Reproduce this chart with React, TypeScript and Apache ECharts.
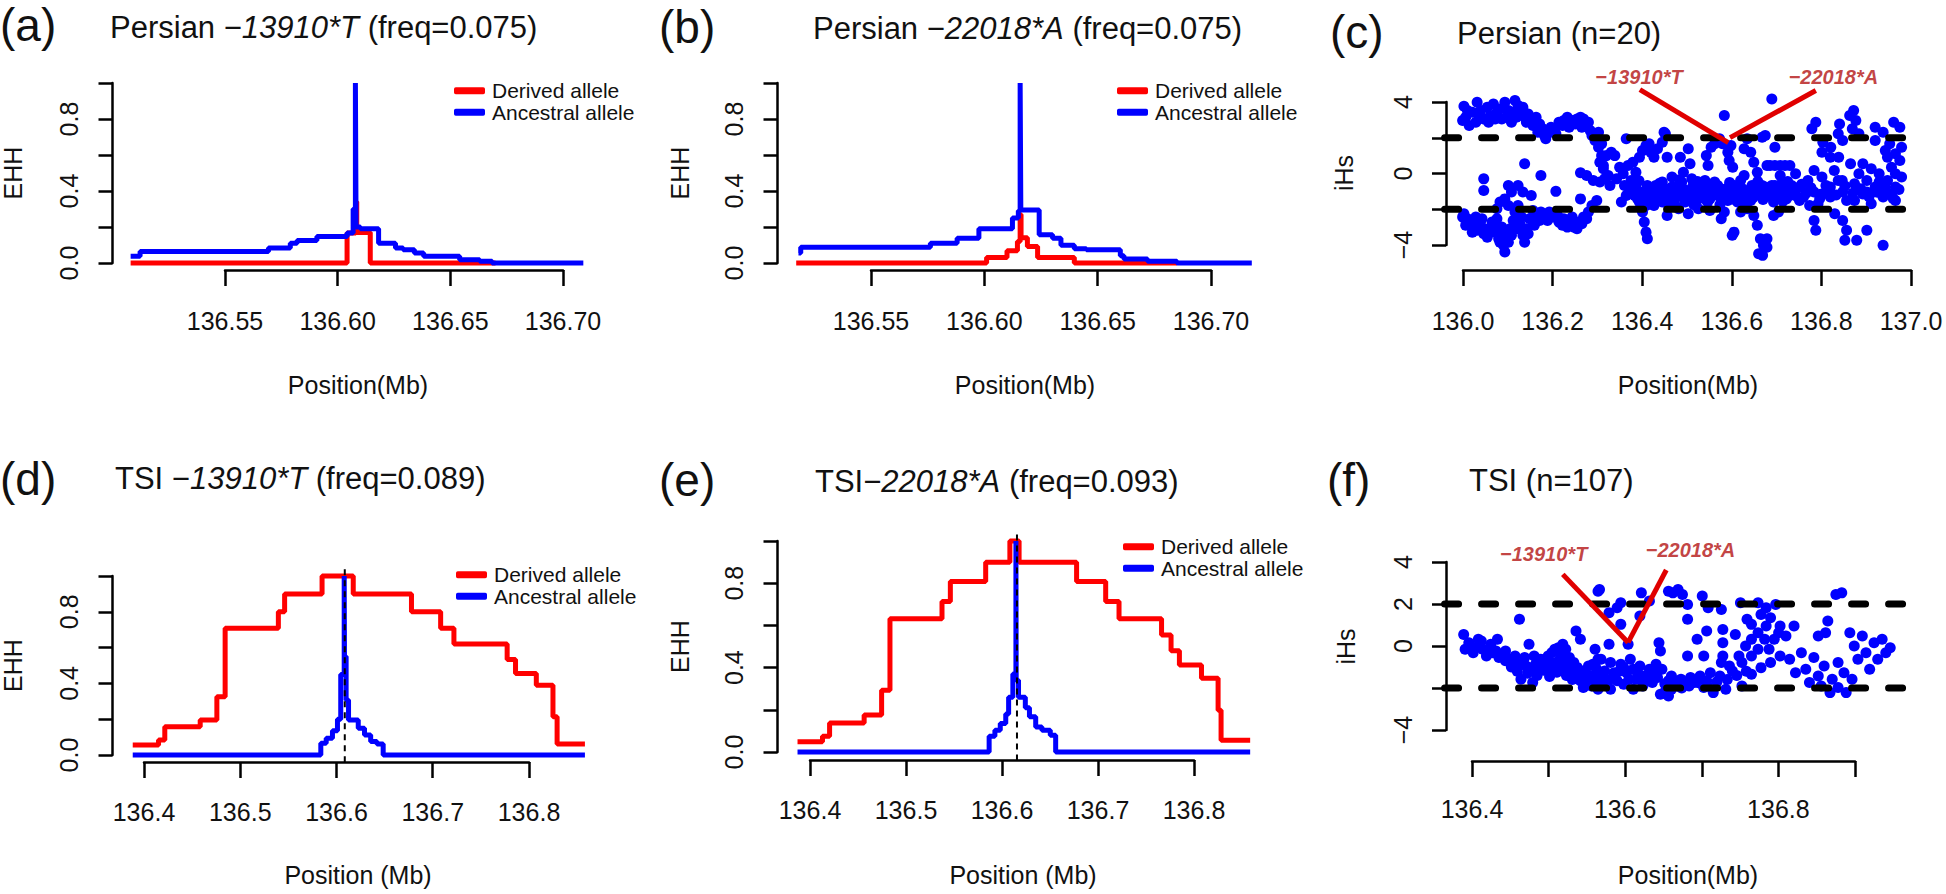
import React, { useEffect, useRef } from "react";
import * as echarts from "echarts";

const FONT = "'Liberation Sans', Arial, Helvetica, sans-serif";
const RED = "#FF0000";
const BLUE = "#0000FF";
const ANNOT_RED = "#E00000";
const ANNOT_TEXT = "#B31212";
const INK = "#111111";

// ---------------- EHH data (position Mb, EHH) ; step starts ----------------
const aDerived: number[][] = [
  [136.508, 0], [136.6041, 0.166], [136.6080, 0.34], [136.6084, 0.17], [136.6144, 0], [136.670, 0],
];
const aAncestral: number[][] = [
  [136.508, 0.037], [136.5122, 0.064], [136.5692, 0.083], [136.5789, 0.11], [136.5819, 0.125],
  [136.5907, 0.147], [136.6041, 0.166], [136.6068, 0.3], [136.6078, 1.0], [136.6081, 0.2],
  [136.6100, 0.19], [136.6181, 0.11], [136.6256, 0.083], [136.629, 0.074], [136.634, 0.055],
  [136.6381, 0.037], [136.6541, 0.018], [136.663, 0.01], [136.6685, 0.0], [136.709, 0.0],
];
const bDerived: number[][] = [
  [136.517, 0], [136.601, 0.031], [136.610, 0.068], [136.6146, 0.12], [136.6158, 0.27],
  [136.6162, 0.14], [136.619, 0.092], [136.6235, 0.031], [136.6397, 0], [136.685, 0],
];
const bAncestral: number[][] = [
  [136.518, 0.055], [136.519, 0.087], [136.5762, 0.11], [136.588, 0.138], [136.5976, 0.19],
  [136.6124, 0.25], [136.615, 0.29], [136.6158, 1.0], [136.6161, 0.295], [136.6242, 0.157],
  [136.6301, 0.138], [136.6338, 0.098], [136.6397, 0.079], [136.645, 0.074], [136.66, 0.04],
  [136.6616, 0.022], [136.672, 0.01], [136.685, 0], [136.718, 0],
];
const dDerived: number[][] = [
  [136.3883, 0.056], [136.4151, 0.084], [136.4216, 0.158], [136.4584, 0.196], [136.4757, 0.326],
  [136.4843, 0.708], [136.5396, 0.8], [136.5461, 0.9], [136.585, 1.0], [136.6174, 0.9],
  [136.6779, 0.8], [136.7082, 0.708], [136.722, 0.62], [136.7773, 0.534], [136.786, 0.456],
  [136.8076, 0.39], [136.8249, 0.214], [136.8292, 0.061], [136.8581, 0.061],
];
const dAncestral: number[][] = [
  [136.3883, 0], [136.5837, 0.065], [136.5893, 0.093], [136.5958, 0.136], [136.601, 0.2],
  [136.6044, 0.45], [136.608, 1.0], [136.6083, 0.55], [136.6100, 0.307], [136.6125, 0.196],
  [136.6226, 0.149], [136.6291, 0.112], [136.6355, 0.075], [136.642, 0.061], [136.6485, 0],
  [136.8581, 0],
];
const eDerived: number[][] = [
  [136.387, 0.048], [136.413, 0.075], [136.4204, 0.138], [136.4564, 0.175], [136.4746, 0.293],
  [136.4833, 0.631], [136.5375, 0.713], [136.5462, 0.808], [136.583, 0.899], [136.6082, 1.0],
  [136.6178, 0.899], [136.6777, 0.808], [136.708, 0.713], [136.7219, 0.631], [136.7662, 0.555],
  [136.7761, 0.48], [136.7848, 0.412], [136.8078, 0.349], [136.8251, 0.198], [136.8282, 0.056],
  [136.8585, 0.056],
];
const eAncestral: number[][] = [
  [136.387, 0], [136.5866, 0.075], [136.5926, 0.103], [136.5982, 0.135], [136.6039, 0.18],
  [136.6069, 0.26], [136.6113, 0.37], [136.6145, 1.0], [136.6148, 0.34], [136.6172, 0.26],
  [136.6243, 0.21], [136.6286, 0.167], [136.6351, 0.119], [136.6416, 0.103], [136.6503, 0.079],
  [136.6559, 0], [136.8585, 0],
];
const coreD = 136.6086;
const coreE = 136.6156;
const ehhSpan = [-0.04, 1.04];

// ---------------- iHS data (position Mb, iHS) ----------------
const ihsPersian: number[][] = [
  [136.004,3.76],[136.001,2.96],[136.008,3.15],[136.012,3.52],[136.016,2.68],[136.023,3.43],[136.031,2.87],[136.034,3.99],[136.038,3.24],[136.042,3.52],[136.049,3.05],[136.057,3.71],[136.06,2.87],[136.064,3.24],[136.071,3.89],[136.075,3.05],[136.079,3.43],[136.086,3.61],[136.09,3.05],[136.097,3.99],[136.101,3.15],[136.105,3.52],[136.112,2.87],[136.116,3.43],[136.12,4.08],[136.123,3.15],[136.127,3.8],[136.135,3.43],[136.138,3.71],[136.142,3.15],[136.146,2.87],[136.15,3.33],[136.157,3.05],[136.161,2.68],[136.168,3.15],[136.172,2.31],[136.176,2.77],[136.183,2.5],[136.187,2.12],[136.19,1.94],[136.194,2.22],[136.202,2.59],[136.209,2.5],[136.213,2.22],[136.22,2.87],[136.228,2.68],[136.231,2.96],[136.239,3.15],[136.243,2.59],[136.25,2.96],[136.257,2.77],[136.261,3.05],[136.269,3.15],[136.272,2.59],[136.276,3.05],[136.283,2.68],[136.287,2.87],[136.291,2.4],[136.295,2.12],[136.302,1.84],[136.31,1.47],[136.317,1.0],[136.313,0.63],[136.321,0.26],[136.324,-0.3],
  [136.004,-2.25],[136.001,-2.44],[136.008,-2.9],[136.012,-2.53],[136.019,-2.9],[136.023,-3.28],[136.027,-2.63],[136.031,-2.44],[136.034,-3.18],[136.042,-2.9],[136.045,-2.53],[136.049,-3.37],[136.057,-3.56],[136.06,-3.09],[136.064,-3.28],[136.068,-2.72],[136.071,-3.0],[136.075,-3.28],[136.079,-2.53],[136.083,-3.65],[136.086,-3.84],[136.09,-3.0],[136.094,-4.02],[136.097,-4.39],[136.097,-3.28],[136.101,-3.56],[136.105,-3.84],[136.109,-3.09],[136.112,-3.46],[136.116,-2.63],[136.12,-2.16],[136.124,-3.09],[136.127,-1.79],[136.131,-2.81],[136.135,-2.44],[136.138,-3.46],[136.142,-3.84],[136.146,-3.09],[136.15,-3.37],[136.153,-2.53],[136.161,-2.07],[136.164,-2.9],[136.168,-2.35],[136.176,-2.63],[136.179,-2.16],[136.187,-2.35],[136.194,-2.63],[136.198,-2.16],[136.205,-2.25],[136.209,-2.44],[136.217,-2.35],[136.22,-2.72],[136.228,-2.9],[136.231,-2.53],[136.239,-3.0],[136.243,-2.81],[136.25,-2.44],[136.254,-3.0],[136.261,-3.09],[136.265,-2.72],[136.272,-2.81],[136.276,-2.44],[136.283,-2.53],[136.287,-2.16],[136.295,-1.79],[136.269,-1.42],[136.306,-1.51],
  [136.049,-0.3],[136.049,-0.95],[136.105,-0.67],[136.112,-1.04],[136.127,-0.67],[136.142,0.54],[136.138,-1.04],[136.157,-1.23],[136.179,-0.11],[136.213,-1.0],[136.269,0.04],[136.283,-0.11],[136.298,-0.39],[136.086,-1.6],[136.097,-1.42],[136.079,-1.97],[136.105,-1.79],
  [136.31,2.31],[136.317,1.66],[136.328,1.0],[136.339,1.19],[136.347,1.0],[136.321,0.45],[136.332,-0.11],[136.313,-0.48],[136.336,-0.67],[136.351,-0.3],[136.358,0.35],[136.366,-0.02],[136.369,-0.67],[136.373,-1.23],[136.362,-1.6],[136.373,1.94],[136.377,0.45],[136.388,0.63],[136.395,0.07],[136.403,0.91],[136.41,1.28],[136.418,1.56],[136.425,1.66],[136.429,1.19],[136.436,0.91],[136.444,1.38],[136.455,1.75],[136.459,2.31],[136.462,2.22],[136.466,0.91],
  [136.38,-0.86],[136.392,-1.23],[136.403,-1.6],[136.41,-2.16],[136.414,-2.72],[136.418,-3.28],[136.421,-3.65],[136.429,-1.04],[136.44,-0.67],[136.451,-1.23],[136.462,-0.86],[136.473,-1.42],[136.485,-1.04],[136.492,-0.67],[136.496,0.91],[136.503,0.07],[136.514,1.38],[136.518,0.54],[136.522,-1.42],[136.529,-0.86],[136.537,-1.14],[136.544,-0.58],[136.555,1.0],[136.559,0.45],[136.566,1.47],[136.574,1.66],[136.581,-1.23],[136.585,1.94],[136.592,1.66],[136.596,3.24],[136.604,1.19],[136.607,0.73],[136.611,1.56],[136.615,0.35],[136.618,-0.67],[136.622,-1.04],[136.626,-1.6],[136.633,-0.39],[136.641,1.38],[136.648,1.94],[136.656,1.19],[136.663,0.63],[136.671,0.07],[136.678,-0.67],[136.682,2.03],[136.689,2.12],[136.693,0.45],[136.704,4.17],[136.711,1.47],[136.7,0.45],[136.711,0.45],[136.723,0.45],[136.734,0.45],[136.745,0.45],
  [136.671,-2.9],[136.678,-3.65],[136.685,-4.02],[136.693,-3.65],[136.663,-2.35],[136.618,-3.28],[136.589,-2.53],[136.596,-2.16],[136.633,-2.16],[136.648,-1.97],[136.708,-2.35],[136.719,-2.16],[136.614,-3.46],[136.674,-4.49],[136.683,-4.58],[136.693,-4.12],
  [136.395,-0.67],[136.41,-1.04],[136.425,-1.42],[136.436,-1.79],[136.447,-1.51],[136.459,-1.23],[136.47,-1.79],[136.481,-1.51],[136.496,-1.23],[136.507,-1.6],[136.518,-1.04],[136.533,-1.51],[136.544,-1.23],[136.555,-0.86],[136.563,-1.42],[136.574,-1.04],[136.589,-1.42],[136.6,-0.86],[136.611,-1.23],[136.626,-1.04],[136.637,-0.86],[136.648,-1.23],[136.659,-0.67],[136.671,-1.04],[136.682,-0.67],[136.693,-1.04],[136.704,-0.67],[136.715,-0.86],[136.726,-0.58],[136.737,-0.86],[136.749,-0.67],
  [136.455,-0.48],[136.477,-0.2],[136.499,-0.48],[136.522,-0.3],[136.552,-0.39],[136.574,-0.48],[136.641,-0.11],[136.723,-0.11],[136.737,-1.42],[136.492,-1.97],[136.514,-2.25],[136.537,-1.97],[136.563,-2.07],[136.466,-2.35],[136.708,-1.6],
  [136.384,-0.39],[136.399,-1.42],[136.418,-1.79],[136.421,-0.67],[136.432,-1.23],[136.444,-0.95],[136.455,-1.6],[136.466,-1.14],[136.477,-0.76],[136.488,-1.32],[136.499,-0.95],[136.51,-1.23],[136.525,-0.67],[136.54,-0.86],[136.552,-1.42],[136.57,-0.76],[136.581,-0.67],[136.592,-1.14],[136.604,-1.51],[136.615,-1.04],[136.63,-1.32],[136.645,-1.04],[136.656,-1.51],[136.667,-0.76],[136.678,-1.23],[136.689,-0.76],[136.7,-1.14],[136.711,-0.67],[136.723,-1.14],[136.734,-0.76],[136.745,-1.23],
  [136.39,-1.0],[136.402,-0.4],[136.413,-1.3],[136.427,-0.85],[136.438,-1.25],[136.449,-0.55],[136.46,-1.45],[136.471,-0.95],[136.483,-1.7],[136.494,-0.35],[136.505,-0.9],[136.516,-1.35],[136.527,-1.75],[136.535,-0.45],[136.547,-0.95],[136.558,-1.6],[136.567,-1.2],[136.578,-0.9],[136.586,-1.75],[136.597,-1.3],[136.608,-0.5],[136.619,-1.45],[136.629,-0.7],[136.64,-1.6],[136.651,-0.95],[136.661,-1.35],[136.672,-0.45],[136.684,-1.45],[136.696,-0.85],[136.706,-1.35],[136.717,-1.0],[136.729,-1.55],[136.74,-0.45],[136.752,-1.0],[136.762,-1.3],[136.772,-0.6],[136.782,-1.1],[136.793,-0.8],[136.813,-1.4],[136.832,-1.0],[136.85,-1.2],[136.87,-0.7],[136.888,-1.1],[136.906,-0.85],[136.925,-1.3],[136.944,-1.05],[136.962,-0.8],[136.98,-1.4],[136.993,-0.9],
  [136.795,2.5],[136.804,2.87],[136.858,2.77],[136.881,3.24],[136.89,3.52],[136.895,2.96],[136.981,2.87],[136.995,2.59],[136.82,1.75],[136.838,1.47],[136.865,1.84],[136.939,1.84],[136.972,1.66],[136.985,1.1],[136.865,-2.63],[136.874,-3.18],[136.87,-3.74],[136.897,-3.74],[136.92,-3.18],[136.957,-4.02],[136.8,-2.63],[136.804,-3.18],[136.985,-1.51],[136.847,-2.25],
  [136.758,-0.02],[136.767,-0.76],[136.776,-1.32],[136.786,-0.39],[136.8,-1.04],[136.809,-1.69],[136.818,-0.2],[136.827,-0.67],[136.837,-1.32],[136.846,0.17],[136.855,-0.39],[136.865,-1.04],[136.874,-1.51],[136.883,0.54],[136.892,-0.58],[136.902,-0.02],[136.911,-1.14],[136.92,-0.39],[136.93,-1.69],[136.939,-0.76],[136.948,-0.02],[136.957,-1.32],[136.967,-0.39],[136.976,0.35],[136.985,-0.76],[136.995,0.73],[136.999,-0.2],
  [136.767,-1.51],[136.79,-1.79],[136.818,-1.14],[136.837,-0.76],[136.864,-0.39],[136.892,-1.51],[136.92,-1.04],[136.948,-0.48],[136.976,-1.14],[136.985,-0.02],[136.999,1.47],[136.967,0.91],[136.93,0.26],[136.911,0.54],[136.902,2.22],[136.887,2.5],[136.855,2.22],[136.837,0.91],[136.8,0.17],[136.939,2.59],[136.957,2.31],[136.856,0.91],[136.818,1.19],[136.962,1.28],
];

const ihsTSI: number[][] = [
  [136.393,0.55],[136.395,-0.16],[136.402,0.0],[136.406,-0.32],[136.413,0.32],[136.417,0.24],[136.419,-0.16],[136.424,-0.48],[136.43,0.08],[136.432,-0.32],[136.439,0.32],[136.441,-0.55],[136.447,-0.48],[136.454,-0.63],[136.461,-0.71],[136.469,1.27],[136.467,-0.87],[136.474,-0.79],[136.471,-1.58],[136.478,-0.95],[136.482,0.08],[136.485,-1.03],[136.487,-1.74],[136.491,-0.87],[136.495,-1.03],[136.5,-0.79],[136.504,-0.63],[136.508,-0.48],[136.513,-0.32],[136.517,-0.16],[136.522,-0.08],[136.526,-0.4],[136.53,-0.63],[136.535,-0.95],[136.539,-1.19],[136.546,0.71],[136.552,0.32],[136.543,-0.79],[136.548,-1.03],[136.556,-1.19],[136.556,-1.98],[136.561,-1.74],[136.565,-1.43],[136.569,-0.87],[136.576,2.61],[136.574,-1.11],[136.511,-0.79],[136.515,-1.03],[136.519,-0.79],[136.526,-1.11],[136.532,-0.16],[136.537,-0.55],[136.572,-0.16],[136.576,-0.63],
  [136.546,-1.43],[136.552,-1.66],[136.563,-0.95],[136.567,-1.9],[136.576,-1.74],[136.58,-1.27],[136.528,0.08],[136.524,-0.63],[136.506,-0.87],[136.498,-0.63],[136.489,-0.48],[136.476,-0.55],[136.463,-0.48],[136.45,-0.24],[136.437,-0.24],[136.428,-0.16],[136.41,-0.08],[136.4,0.16],
  [136.578,2.69],[136.591,1.58],[136.602,1.82],[136.607,1.03],[136.617,0.08],[136.591,0.08],[136.633,1.43],[136.635,2.53],[136.646,2.14],[136.659,0.16],[136.661,-0.24],[136.672,2.61],[136.678,2.53],[136.685,2.69],[136.691,2.45],[136.698,1.98],[136.698,1.27],[136.711,0.32],[136.718,2.38],[136.724,0.71],[136.72,-0.48],[136.726,1.82],[136.744,1.74],[136.746,0.16],[136.746,-0.48],[136.744,-0.79],[136.77,2.06],[136.785,1.03],[136.794,2.06],[136.798,1.5],[136.805,1.82],[136.811,1.35],[136.818,1.98],[136.824,0.95],[136.794,0.63],[136.803,0.32],[136.809,-0.16],[136.785,-0.48],[136.772,-0.79],[136.759,-1.19],[136.742,-1.43],[136.724,-1.66],[136.707,-1.74],[136.694,-1.82],[136.685,-1.9],[136.676,-2.06],[136.668,-2.14],[136.733,-2.22],[136.72,-1.98],[136.75,-2.06],[136.772,-1.9],[136.785,-1.35],[136.798,-1.03],[136.811,-0.79],[136.824,-0.48],
  [136.58,-0.63],[136.593,-0.79],[136.607,-0.87],[136.62,-0.63],[136.633,-0.95],[136.646,-1.11],[136.655,-0.87],[136.657,-1.5],[136.663,-1.11],[136.672,-1.66],[136.576,-1.43],[136.589,-1.74],[136.602,-1.66],[136.615,-1.27],[136.628,-1.58],[136.641,-1.43],[136.576,-2.06],[136.593,-2.06],[136.611,-1.82],[136.624,-2.06],[136.637,-1.9],[136.65,-1.74],[136.661,-2.3],[136.672,-2.38],
  [136.572,-0.95],[136.585,-1.19],[136.598,-1.27],[136.611,-1.03],[136.624,-1.11],[136.637,-1.43],[136.65,-1.27],[136.676,-1.43],[136.689,-1.58],[136.702,-1.5],[136.715,-1.43],[136.729,-1.27],[136.755,-0.95],[136.768,-0.48],[136.777,0.0],[136.785,0.32],[136.794,-0.16],[136.816,0.32],[136.822,0.63],[136.805,0.95],[136.779,1.27],[136.763,0.55],[136.607,2.06],[136.698,-0.48],[136.746,0.79],
  [136.45,-0.7],[136.458,-1.0],[136.466,-1.2],[136.48,-1.3],[136.493,-1.4],[136.502,-1.15],[136.51,-1.45],[136.52,-1.25],[136.533,-1.4],[136.541,-1.6],[136.55,-1.3],[136.56,-1.55],[136.57,-1.6],[136.583,-1.45],[136.596,-1.5],[136.605,-1.2],[136.618,-1.6],[136.63,-1.3],[136.643,-1.65],[136.653,-1.1],[136.667,-1.8],[136.68,-1.65],[136.69,-2.0],[136.70,-1.9],[136.713,-1.75],[136.725,-1.9],[136.738,-1.7],[136.752,-1.6],[136.765,-1.4],[136.778,-1.2],
  [136.837,-0.63],[136.853,-0.32],[136.859,-1.11],[136.87,-0.55],[136.876,-1.43],[136.884,-0.95],[136.886,0.63],[136.889,1.19],[136.895,-1.58],[136.9,2.45],[136.908,2.53],[136.892,-2.22],[136.903,-1.98],[136.911,-1.27],[136.914,-2.22],[136.919,0.63],[136.925,0.0],[136.93,-0.63],[136.936,0.48],[136.941,-0.32],[136.946,-1.11],[136.952,0.16],[136.957,-0.63],[136.963,0.32],[136.968,-0.32],[136.974,-0.08],[136.845,-1.27],[136.864,-1.74],[136.88,-1.9],[136.922,-1.58],[136.903,-0.79],[136.843,0.95],[136.832,0.48],[136.876,0.48],
];

const thresholds = [2, -2];
const spanPersian = [135.96, 137.04];
const spanTSI = [136.367, 136.998];

const annotPersian = [
  { label: "−13910*T", text: [136.402, 5.42], from: [136.404, 4.69], to: [136.605, 1.73] },
  { label: "−22018*A", text: [136.844, 5.42], from: [136.804, 4.64], to: [136.609, 2.01] },
];
const annotTSI = [
  { label: "−13910*T", text: [136.502, 4.36], from: [136.528, 3.41], to: [136.617, 0.17] },
  { label: "−22018*A", text: [136.702, 4.56], from: [136.669, 3.62], to: [136.617, 0.17] },
];

const legendNames = ["Derived allele", "Ancestral allele"];

// ---------------- layout (pixels) ----------------
type Panel = {
  grid: { left: number; top: number; width: number; height: number };
  x: { min: number; max: number; interval: number; offset: number; margin: number; fmt: (v: number) => string };
  y: { min: number; max: number; interval: number; offset: number; fmt: (v: number) => string };
  dataX: number[];
  dataY: number[];
};
const minus = (v: number) => (v < 0 ? "−" + Math.abs(v) : String(v));
const ehhFmt = (v: number) => {
  const k = Math.round(v * 10);
  return k % 4 === 0 && k < 10 ? (k / 10).toFixed(1) : "";
};
const PANELS: Panel[] = [
  { grid: { left: 225, top: 83, width: 338, height: 180 },
    x: { min: 136.55, max: 136.7, interval: 0.05, offset: 7, margin: 38, fmt: (v) => v.toFixed(2) },
    y: { min: 0, max: 1, interval: 0.2, offset: 112.5, fmt: ehhFmt },
    dataX: [136.45, 136.75], dataY: [-0.2, 1.2] },
  { grid: { left: 871, top: 83, width: 340, height: 180 },
    x: { min: 136.55, max: 136.7, interval: 0.05, offset: 7, margin: 38, fmt: (v) => v.toFixed(2) },
    y: { min: 0, max: 1, interval: 0.2, offset: 93.5, fmt: ehhFmt },
    dataX: [136.45, 136.75], dataY: [-0.2, 1.2] },
  { grid: { left: 1463, top: 102, width: 448, height: 143 },
    x: { min: 136.0, max: 137.0, interval: 0.2, offset: 25, margin: 38, fmt: (v) => v.toFixed(1) },
    y: { min: -4, max: 4, interval: 2, offset: 17, fmt: (v) => (Math.round(v) % 4 === 0 ? minus(Math.round(v)) : "") },
    dataX: [135.9, 137.1], dataY: [-6, 7] },
  { grid: { left: 144, top: 576, width: 385, height: 179 },
    x: { min: 136.4, max: 136.8, interval: 0.1, offset: 7, margin: 37, fmt: (v) => v.toFixed(1) },
    y: { min: 0, max: 1, interval: 0.2, offset: 31.5, fmt: ehhFmt },
    dataX: [136.3, 136.9], dataY: [-0.2, 1.2] },
  { grid: { left: 810, top: 541, width: 384, height: 211 },
    x: { min: 136.4, max: 136.8, interval: 0.1, offset: 8, margin: 37, fmt: (v) => v.toFixed(1) },
    y: { min: 0, max: 1, interval: 0.2, offset: 32.5, fmt: ehhFmt },
    dataX: [136.3, 136.9], dataY: [-0.2, 1.2] },
  { grid: { left: 1472, top: 562, width: 383, height: 168 },
    x: { min: 136.4, max: 136.9, interval: 0.1, offset: 31, margin: 35,
         fmt: (v) => (Math.round(v * 10) % 2 === 0 ? v.toFixed(1) : "") },
    y: { min: -4, max: 4, interval: 2, offset: 26, fmt: (v) => (Math.round(v) === -2 ? "" : minus(Math.round(v))) },
    dataX: [136.3, 137.05], dataY: [-6, 7] },
];
// data grid = same scale as the tick grid, extended to cover the whole plotting region
function dataGrid(p: Panel) {
  const kx = p.grid.width / (p.x.max - p.x.min);
  const ky = p.grid.height / (p.y.max - p.y.min);
  return {
    left: p.grid.left - (p.x.min - p.dataX[0]) * kx,
    width: (p.dataX[1] - p.dataX[0]) * kx,
    top: p.grid.top - (p.dataY[1] - p.y.max) * ky,
    height: (p.dataY[1] - p.dataY[0]) * ky,
  };
}

const TITLES: { x: number; y: number; segs: [string, boolean][] }[] = [
  { x: 110, y: 27, segs: [["Persian −", false], ["13910*T", true], [" (freq=0.075)", false]] },
  { x: 813, y: 28, segs: [["Persian −", false], ["22018*A", true], [" (freq=0.075)", false]] },
  { x: 1457, y: 33, segs: [["Persian (n=20)", false]] },
  { x: 115, y: 478, segs: [["TSI −", false], ["13910*T", true], [" (freq=0.089)", false]] },
  { x: 815, y: 481, segs: [["TSI−", false], ["22018*A", true], [" (freq=0.093)", false]] },
  { x: 1469, y: 480, segs: [["TSI (n=107)", false]] },
];
const LETTERS = [
  { t: "(a)", x: 0, y: 25 }, { t: "(b)", x: 659, y: 27 }, { t: "(c)", x: 1330, y: 32 },
  { t: "(d)", x: 0, y: 479 }, { t: "(e)", x: 659, y: 480 }, { t: "(f)", x: 1327, y: 480 },
];
const YNAMES = [
  { t: "EHH", x: 12.5, y: 173 }, { t: "EHH", x: 680, y: 173 }, { t: "iHs", x: 1344, y: 173 },
  { t: "EHH", x: 12.5, y: 665.5 }, { t: "EHH", x: 680, y: 646.5 }, { t: "iHs", x: 1346, y: 646.5 },
];
const XNAMES = [
  { t: "Position(Mb)", x: 358, y: 385 }, { t: "Position(Mb)", x: 1025, y: 385 }, { t: "Position(Mb)", x: 1688, y: 385 },
  { t: "Position (Mb)", x: 358, y: 875 }, { t: "Position (Mb)", x: 1023, y: 875 }, { t: "Position(Mb)", x: 1688, y: 875 },
];
const LEGENDS = [
  { left: 454, top: 80 }, { left: 1117, top: 80 }, { left: 456, top: 564 }, { left: 1123, top: 536 },
];

const N = PANELS.length;

function ehhSeries(idx: number, derived: number[][], ancestral: number[][]) {
  const base = { type: "line", xAxisIndex: N + idx, yAxisIndex: N + idx, step: "end", symbol: "none",
    showSymbol: false, clip: false, silent: true };
  return [
    { ...base, name: legendNames[0], data: derived, itemStyle: { color: RED }, lineStyle: { color: RED, width: 5 }, z: 2 },
    { ...base, name: legendNames[1], data: ancestral, itemStyle: { color: BLUE }, lineStyle: { color: BLUE, width: 5 }, z: 3 },
  ];
}
function coreLine(idx: number, x: number) {
  return { type: "line", xAxisIndex: N + idx, yAxisIndex: N + idx, symbol: "none", clip: false, silent: true, z: 4,
    data: [[x, ehhSpan[0]], [x, ehhSpan[1]]], lineStyle: { color: "#000", width: 2, type: [6, 5] } };
}
function ihsSeries(idx: number, pts: number[][], span: number[], annots: typeof annotPersian) {
  const ax = { xAxisIndex: N + idx, yAxisIndex: N + idx };
  const s: any[] = [
    { type: "scatter", ...ax, data: pts, symbol: "circle", symbolSize: 11,
      itemStyle: { color: BLUE, opacity: 1 }, clip: false, silent: true, z: 2 },
  ];
  thresholds.forEach((t) => s.push({
    type: "line", ...ax, symbol: "none", clip: false, silent: true, z: 4,
    data: [[span[0], t], [span[1], t]], lineStyle: { color: "#000", width: 7, type: [14, 23], cap: "round" },
  }));
  annots.forEach((a) => s.push({
    type: "line", ...ax, symbol: "none", clip: false, silent: true, z: 5,
    data: [a.from, a.to], lineStyle: { color: ANNOT_RED, width: 5 },
  }));
  s.push({
    type: "scatter", ...ax, symbolSize: 1, clip: false, silent: true, z: 6,
    itemStyle: { color: "rgba(0,0,0,0)" },
    data: annots.map((a) => ({ name: a.label, value: a.text })),
    label: { show: true, position: "inside", formatter: "{b}", fontSize: 20, fontWeight: "bold",
      fontStyle: "italic", fontFamily: FONT, color: ANNOT_TEXT },
  });
  return s;
}

function buildOption(): any {
  const axisLine = { show: true, onZero: false, lineStyle: { color: "#000", width: 2.5 } };
  const graphic: any[] = [];
  TITLES.forEach((t) => {
    graphic.push({
      type: "text", x: t.x, y: t.y, silent: true,
      style: {
        text: t.segs.map(([s, it]) => `{${it ? "i" : "n"}|${s}}`).join(""),
        rich: {
          n: { fontSize: 31, fontFamily: FONT, fill: INK },
          i: { fontSize: 31, fontFamily: FONT, fontStyle: "italic", fill: INK },
        },
        fill: INK, align: "left", textAlign: "left", verticalAlign: "middle", textVerticalAlign: "middle",
      },
    });
  });
  LETTERS.forEach((l) => graphic.push({
    type: "text", x: l.x, y: l.y, silent: true,
    style: { text: l.t, font: `46px ${FONT}`, fill: INK, align: "left", textAlign: "left",
      verticalAlign: "middle", textVerticalAlign: "middle" },
  }));
  YNAMES.forEach((l) => graphic.push({
    type: "text", x: l.x, y: l.y, rotation: Math.PI / 2, silent: true,
    style: { text: l.t, font: `25px ${FONT}`, fill: INK, align: "center", textAlign: "center",
      verticalAlign: "middle", textVerticalAlign: "middle" },
  }));
  XNAMES.forEach((l) => graphic.push({
    type: "text", x: l.x, y: l.y, silent: true,
    style: { text: l.t, font: `25px ${FONT}`, fill: INK, align: "center", textAlign: "center",
      verticalAlign: "middle", textVerticalAlign: "middle" },
  }));

  const tickX = PANELS.map((p, i) => ({
    type: "value", gridIndex: i, position: "bottom", min: p.x.min, max: p.x.max, interval: p.x.interval,
    offset: p.x.offset, axisLine,
    axisTick: { show: true, length: 16, lineStyle: { color: "#000", width: 2.5 } },
    axisLabel: { show: true, margin: p.x.margin, fontSize: 25, fontFamily: FONT, color: INK,
      formatter: p.x.fmt, showMinLabel: true, showMaxLabel: true },
    splitLine: { show: false },
  }));
  const tickY = PANELS.map((p, i) => ({
    type: "value", gridIndex: i, position: "left", min: p.y.min, max: p.y.max, interval: p.y.interval,
    offset: p.y.offset, axisLine,
    axisTick: { show: true, length: 14, lineStyle: { color: "#000", width: 2.5 } },
    axisLabel: { show: true, rotate: 90, margin: 31, fontSize: 25, fontFamily: FONT, color: INK,
      formatter: p.y.fmt, showMinLabel: true, showMaxLabel: true },
    splitLine: { show: false },
  }));
  const dataX = PANELS.map((p, i) => ({
    type: "value", gridIndex: N + i, min: p.dataX[0], max: p.dataX[1], show: false,
    axisLine: { onZero: false }, splitLine: { show: false },
  }));
  const dataY = PANELS.map((p, i) => ({
    type: "value", gridIndex: N + i, min: p.dataY[0], max: p.dataY[1], show: false,
    axisLine: { onZero: false }, splitLine: { show: false },
  }));

  return {
    animation: false,
    backgroundColor: "#ffffff",
    grid: [
      ...PANELS.map((p) => ({ ...p.grid, containLabel: false, show: false })),
      ...PANELS.map((p) => ({ ...dataGrid(p), containLabel: false, show: false })),
    ],
    xAxis: [...tickX, ...dataX],
    yAxis: [...tickY, ...dataY],
    legend: LEGENDS.map((l) => ({
      data: legendNames, left: l.left, top: l.top, orient: "vertical", padding: 0, itemGap: 0,
      itemWidth: 31, itemHeight: 7, icon: "roundRect", selectedMode: false,
      textStyle: { fontSize: 21, fontFamily: FONT, color: INK, lineHeight: 21.5, padding: [0, 0, 0, 2] },
    })),
    graphic,
    series: [
      ...ehhSeries(0, aDerived, aAncestral),
      ...ehhSeries(1, bDerived, bAncestral),
      ...ihsSeries(2, ihsPersian, spanPersian, annotPersian),
      ...ehhSeries(3, dDerived, dAncestral),
      coreLine(3, coreD),
      ...ehhSeries(4, eDerived, eAncestral),
      coreLine(4, coreE),
      ...ihsSeries(5, ihsTSI, spanTSI, annotTSI),
    ],
  };
}

export default function App() {
  const ref = useRef<HTMLDivElement>(null);
  useEffect(() => {
    if (!ref.current) return;
    const chart = echarts.init(ref.current, undefined, { renderer: "svg" });
    chart.setOption(buildOption());
    return () => chart.dispose();
  }, []);
  return (
    <div
      ref={ref}
      style={{ position: "absolute", left: 0, top: 0, width: 1946, height: 894, background: "#fff" }}
    />
  );
}
